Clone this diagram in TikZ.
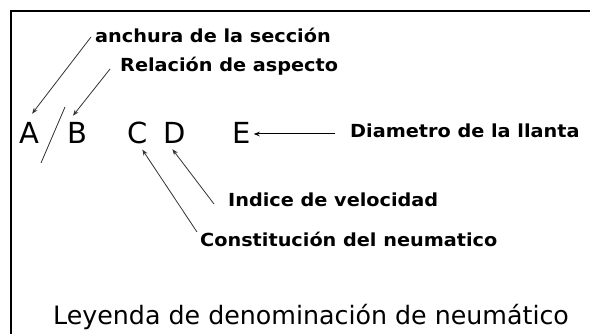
\documentclass[tikz,border=0pt]{standalone}
\usepackage{fontspec}
\setmainfont{DejaVu Sans}
\newfontfamily\labfont[FakeStretch=1.07]{DejaVu Sans Bold}
\usetikzlibrary{arrows.meta,calc}
\tikzset{
  lab/.style={anchor=base west,inner sep=0pt,font=\labfont\fontsize{18}{20}\selectfont},
  letter/.style={anchor=base west,inner sep=0pt,font=\fontsize{29}{32}\selectfont},
  title/.style={anchor=base west,inner sep=0pt,font=\fontsize{25.3}{28}\selectfont},
  ptr/.style={draw=black!80,line width=0.8pt,-{Stealth[length=6pt,width=4.5pt]}},
  frame/.style={draw=black,line width=2pt}
}
\begin{document}
\begin{tikzpicture}[x=1pt,y=-1pt]
\useasboundingbox (0,0) rectangle (590,334);
\fill[white] (0,0) rectangle (590,334);
\draw[frame] (11,334) -- (11,11) -- (590,11);
% letters
\node[letter] (A) at (19,144) {A};
\node[letter] (B) at (67,144) {B};
\node[letter] (C) at (127,144) {C};
\node[letter] (D) at (163,144) {D};
\node[letter] (E) at (232,144) {E};
% labels
\node[lab] (l1) at (95,43) {anchura de la sección};
\node[lab] (l2) at (120,72) {Relación de aspecto};
\node[lab] (l3) at (350,138) {Diametro de la llanta};
\node[lab] (l4) at (228,207) {Indice de velocidad};
\node[lab] (l5) at (200,247) {Constitución del neumatico};
\node[title] (t) at (53,325) {Leyenda de denominación de neumático};
% coordinates
\coordinate (s1) at (91,37);
\coordinate (s2) at (110,69);
\coordinate (s4) at (214,204);
\coordinate (s5) at (197,232);
\coordinate (s3) at (335,134);
\coordinate (sl1) at (65,107);
\coordinate (sl2) at (41,163);
% connectors
\draw[ptr] (s1) -- ($(A.north)+(3,-9)$);
\draw[ptr] (s2) -- ($(B.north west)+(6,-7)$);
\draw[ptr] (s5) -- ($(C.south)+(5,5)$);
\draw[ptr] (s4) -- ($(D.south)+(-2,5)$);
\draw[draw=black,line width=1pt,-{Stealth[length=6pt,width=4.5pt]}] (s3) -- ([xshift=3pt]E.east |- s3);
\draw[draw=black!80,line width=0.8pt] (sl1) -- (sl2);
\end{tikzpicture}
\end{document}
